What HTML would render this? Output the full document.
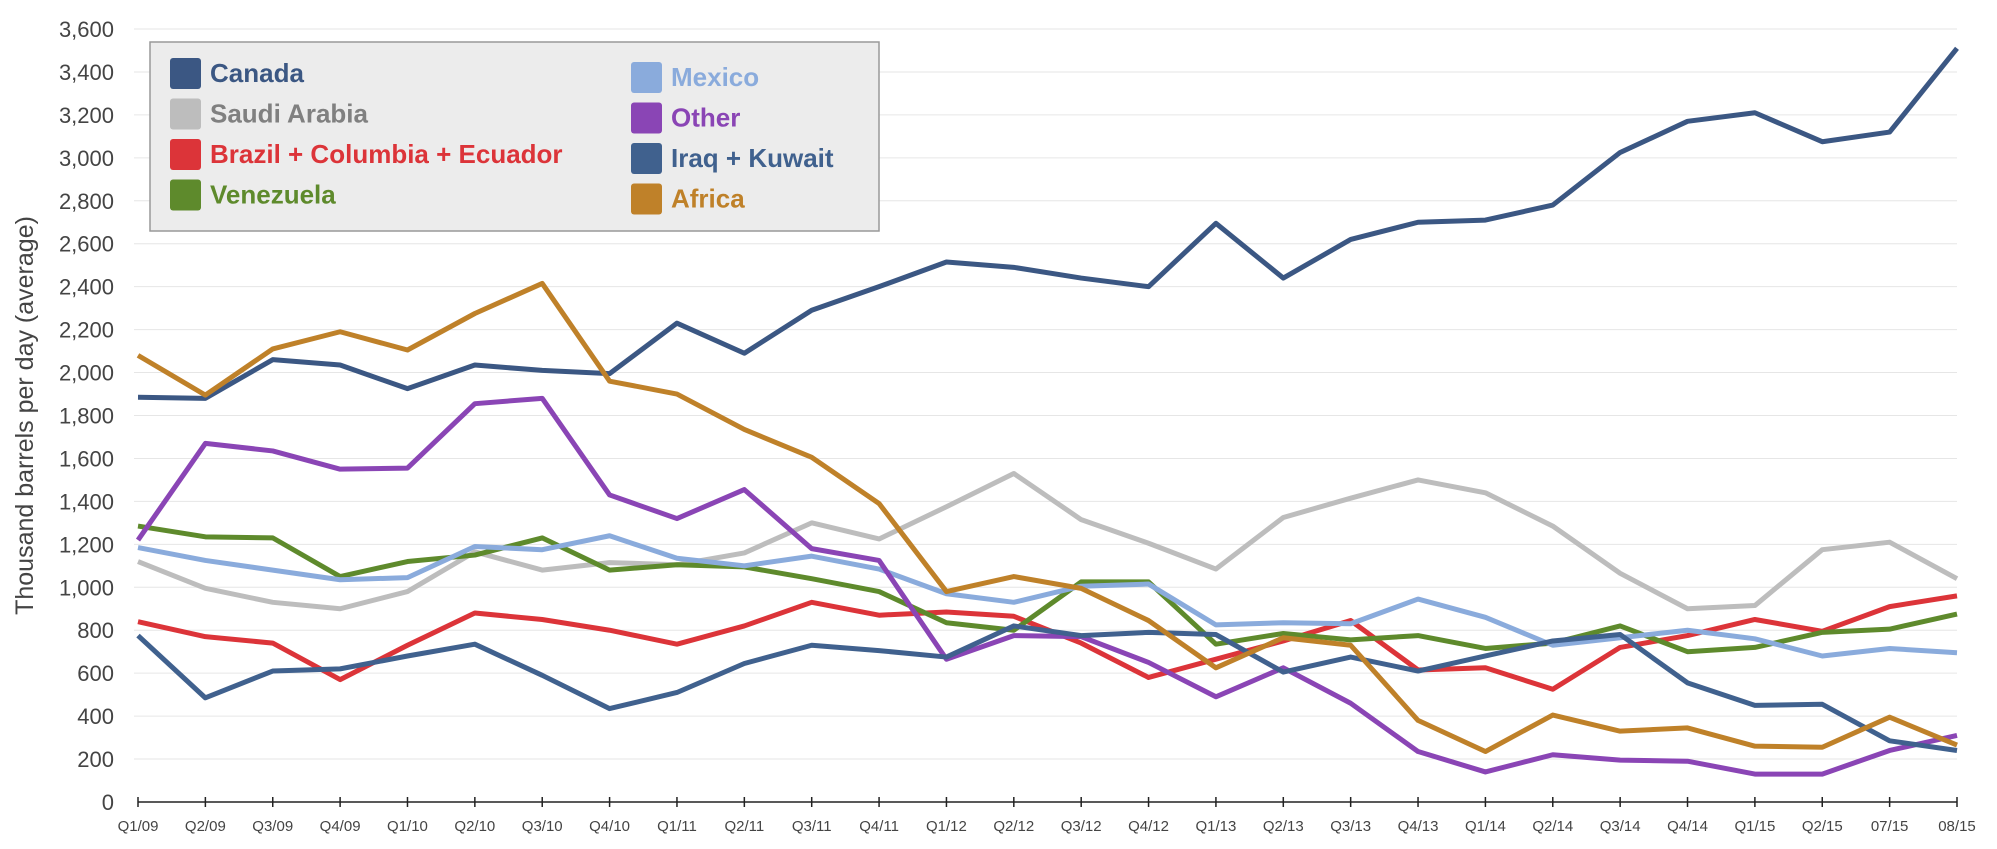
<!DOCTYPE html>
<html><head><meta charset="utf-8"><style>
body{margin:0;background:#fff;font-family:"Liberation Sans",sans-serif}
svg text{font-family:"Liberation Sans",sans-serif}
</style></head><body>
<svg id="c" width="1997" height="844"></svg>
<script>
const categories=["Q1/09","Q2/09","Q3/09","Q4/09","Q1/10","Q2/10","Q3/10","Q4/10","Q1/11","Q2/11","Q3/11","Q4/11","Q1/12","Q2/12","Q3/12","Q4/12","Q1/13","Q2/13","Q3/13","Q4/13","Q1/14","Q2/14","Q3/14","Q4/14","Q1/15","Q2/15","07/15","08/15"];
const yTicks=[0,200,400,600,800,1000,1200,1400,1600,1800,2000,2200,2400,2600,2800,3000,3200,3400,3600];
const canada=[1885,1880,2060,2035,1925,2035,2010,1995,2230,2090,2290,2400,2515,2490,2440,2400,2695,2440,2620,2700,2710,2780,3025,3170,3210,3075,3120,3510];
const saudi=[1120,995,930,900,980,1165,1080,1115,1105,1160,1300,1225,1375,1530,1315,1205,1085,1325,1415,1500,1440,1285,1065,900,915,1175,1210,1040];
const brazil=[840,770,740,570,730,880,850,800,735,820,930,870,885,865,740,580,665,750,845,615,625,525,720,775,850,795,910,960];
const venezuela=[1285,1235,1230,1050,1120,1150,1230,1080,1105,1095,1040,980,835,800,1025,1025,735,785,755,775,715,740,820,700,720,790,805,875];
const mexico=[1185,1125,1080,1035,1045,1190,1175,1240,1135,1100,1145,1085,970,930,1005,1015,825,835,830,945,860,730,765,800,760,680,715,695];
const other=[1220,1670,1635,1550,1555,1855,1880,1430,1320,1455,1180,1125,665,775,770,650,490,625,460,235,140,220,195,190,130,130,240,310];
const iraq=[775,485,610,620,680,735,590,435,510,645,730,705,675,820,775,790,780,605,675,610,680,750,780,555,450,455,285,240];
const africa=[2080,1895,2110,2190,2105,2275,2415,1960,1900,1735,1605,1390,980,1050,995,845,625,765,730,380,235,405,330,345,260,255,395,265];

const series=[
 {n:"Canada",d:canada,c:"#3b5783",k:"canada"},
 {n:"Saudi Arabia",d:saudi,c:"#bdbdbd",k:"saudi-arabia",t:"#808080"},
 {n:"Brazil + Columbia + Ecuador",d:brazil,c:"#dc3439",k:"brazil-columbia-ecuador"},
 {n:"Venezuela",d:venezuela,c:"#5e8a2c",k:"venezuela"},
 {n:"Mexico",d:mexico,c:"#8aabdc",k:"mexico"},
 {n:"Other",d:other,c:"#8a45b5",k:"other"},
 {n:"Iraq + Kuwait",d:iraq,c:"#40618e",k:"iraq-kuwait"},
 {n:"Africa",d:africa,c:"#bf8129",k:"africa"}];
const X0=138,X1=1957,Y0=802,Y1=29,YMAX=3600;
const xs=i=>X0+(X1-X0)*i/(categories.length-1);
const ys=v=>Y0-(Y0-Y1)*v/YMAX;
const svg=document.getElementById('c');const NS="http://www.w3.org/2000/svg";
function mk(t,a,p){const e=document.createElementNS(NS,t);for(const k in a)e.setAttribute(k,a[k]);(p||svg).appendChild(e);return e;}
yTicks.forEach(v=>{
 if(v>0){
 const g=mk('line',{x1:X0-4,x2:X1,y1:ys(v),y2:ys(v),stroke:"#e6e6e6","stroke-width":1});
 
 
 }
 const t=mk('text',{x:114,y:ys(v)+8,"text-anchor":"end","font-size":22,fill:"#444"});t.textContent=v.toLocaleString('en-US');
 
 
});
const ax=mk('line',{x1:X0,x2:X1,y1:Y0,y2:Y0,stroke:"#222","stroke-width":1.5});


categories.forEach((c,i)=>{
 const tk=mk('line',{x1:xs(i),x2:xs(i),y1:Y0-5,y2:Y0+5,stroke:"#222","stroke-width":1.5});
 
 
 const t=mk('text',{x:xs(i),y:831,"text-anchor":"middle","font-size":15,fill:"#444"});t.textContent=c;
 
 
});
const yt=mk('text',{x:0,y:0,"text-anchor":"middle","font-size":25,fill:"#444",transform:`translate(33,${(Y0+Y1)/2}) rotate(-90)`});
yt.textContent="Thousand barrels per day (average)";


series.forEach(s=>{
 const p=mk('polyline',{points:s.d.map((v,i)=>xs(i)+","+ys(v)).join(" "),fill:"none",stroke:s.c,"stroke-width":5,"stroke-linejoin":"round"});
 
 
});
const lg=mk('g',{});


mk('rect',{x:150,y:42,width:729,height:189,fill:"#ececec",stroke:"#999","stroke-width":1.5},lg);
series.forEach((s,i)=>{
 const col=i<4?0:1,row=i%4;
 const x=col?631:170,y=(col?62:58)+row*40.5;
 const e=mk('g',{},lg);
 
 
 mk('rect',{x:x,y:y,width:31,height:31,rx:3,fill:s.c},e);
 const t=mk('text',{x:x+40,y:y+24,"font-size":26,"font-weight":"bold",fill:s.t||s.c},e);t.textContent=s.n;
});
</script>
</body></html>
